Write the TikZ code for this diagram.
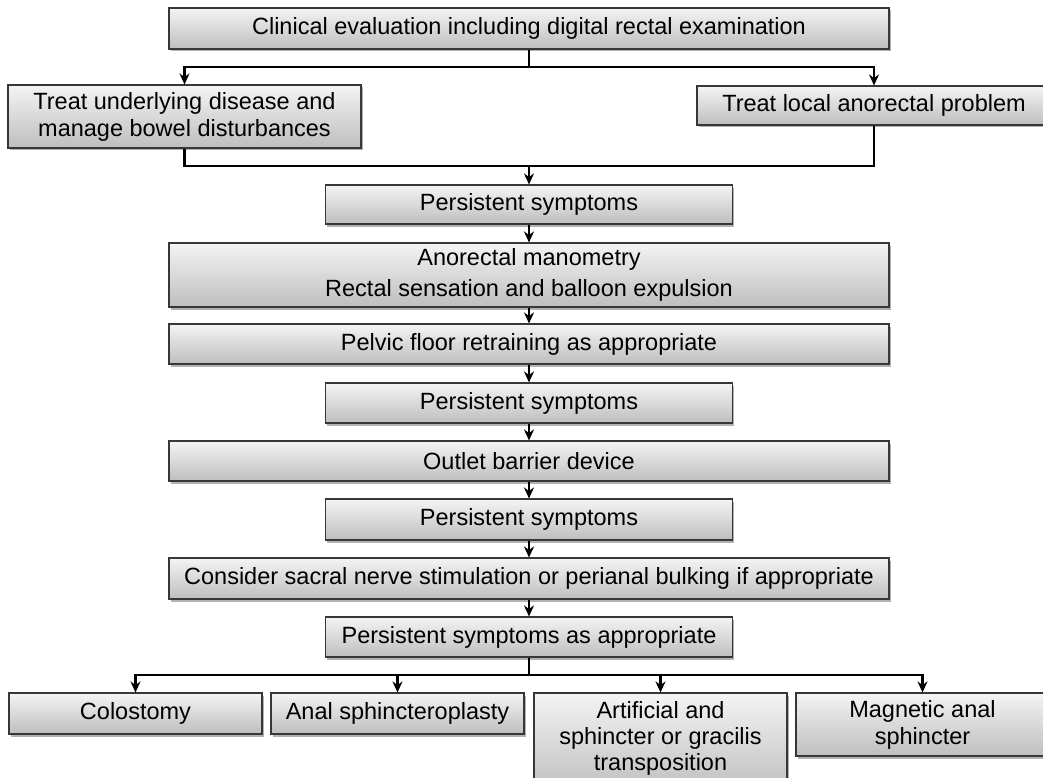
\documentclass[tikz,border=0pt]{standalone}
\usepackage{fontspec}
\setmainfont{Liberation Sans}
\usetikzlibrary{shadows,arrows.meta,positioning}
\definecolor{boxtop}{RGB}{244,244,244}
\definecolor{boxbot}{RGB}{190,190,190}
\definecolor{boxline}{RGB}{55,55,55}
\tikzset{
  fbox/.style={draw=boxline, line width=1.1pt, top color=boxtop, bottom color=boxbot,
    drop shadow={shadow xshift=1.5pt, shadow yshift=-2.5pt, opacity=0.3, fill=black},
    inner sep=0pt, align=center, font=\fontsize{23.5}{27}\selectfont},
  wide/.style={fbox, minimum width=720pt},
  mid/.style={fbox, minimum width=407pt},
  small/.style={fbox, minimum width=253pt},
  conn/.style={line width=2.2pt, black},
  arr/.style={conn, -{Stealth[length=11pt,width=10pt]}}
}
\begin{document}
\begin{tikzpicture}[x=1pt,y=-1pt]
\clip (0,0) rectangle (1043,778);
\useasboundingbox (0,0) rectangle (1043,778);
\fill[white] (0,0) rectangle (1043,778);

\node[wide, minimum height=41pt] (top) at (529,28.5) {Clinical evaluation including digital rectal examination};
\node[fbox, minimum width=353pt, minimum height=63pt] (L) at (184.5,116.5) {Treat underlying disease and\\manage bowel disturbances};
\node[fbox, minimum width=354pt, minimum height=39pt] (R) at (874,105.5) {Treat local anorectal problem};

\node[mid, minimum height=39pt] (P1) at (529,204.5) {Persistent symptoms};
\node[wide, minimum height=64pt] (A) at (529,275) {Anorectal manometry\\[3.5pt]Rectal sensation and balloon expulsion};
\node[wide, minimum height=40pt] (Pe) at (529,344) {Pelvic floor retraining as appropriate};
\node[mid, minimum height=40pt] (P2) at (529,403) {Persistent symptoms};
\node[wide, minimum height=40pt] (O) at (529,461) {Outlet barrier device};
\node[mid, minimum height=41pt] (P3) at (529,519.5) {Persistent symptoms};
\node[wide, minimum height=41pt] (C) at (529,578.5) {Consider sacral nerve stimulation or perianal bulking if appropriate};
\node[mid, minimum height=40pt] (P4) at (529,637) {Persistent symptoms as appropriate};

\node[small, minimum height=41pt] (col) at (135.5,713.5) {Colostomy};
\node[small, minimum height=41pt] (anal) at (397.5,713.5) {Anal sphincteroplasty};
\node[small, minimum height=100pt] (art) at (660.5,743) {};
\node[align=center, font=\fontsize{23.5}{26}\selectfont, anchor=north, inner sep=0pt] (arttxt) at (660.5,701) {Artificial and\\sphincter or gracilis\\transposition};
\node[small, minimum height=63pt] (mag) at (922.5,724.5) {Magnetic anal\\sphincter};

\coordinate (j1) at (529,67);
\coordinate (j2) at (529,166);
\coordinate (j3) at (529,675);

\draw[conn] (top.south) -- (j1);
\draw[arr] (j1) -| (L.north);
\draw[arr] (j1) -| (R.north);
\draw[conn] (L.south) |- (j2);
\draw[conn] (R.south) |- (j2);
\draw[arr] (j2) -- (P1.north);
\draw[arr] (P1) -- (A);
\draw[arr] (A) -- (Pe);
\draw[arr] (Pe) -- (P2);
\draw[arr] (P2) -- (O);
\draw[arr] (O) -- (P3);
\draw[arr] (P3) -- (C);
\draw[arr] (C) -- (P4);
\draw[conn] (P4.south) -- (j3);
\draw[arr] (j3) -| (col.north);
\draw[arr] (j3) -| (anal.north);
\draw[arr] (j3) -| (art.north);
\draw[arr] (j3) -| (mag.north);
\end{tikzpicture}
\end{document}
